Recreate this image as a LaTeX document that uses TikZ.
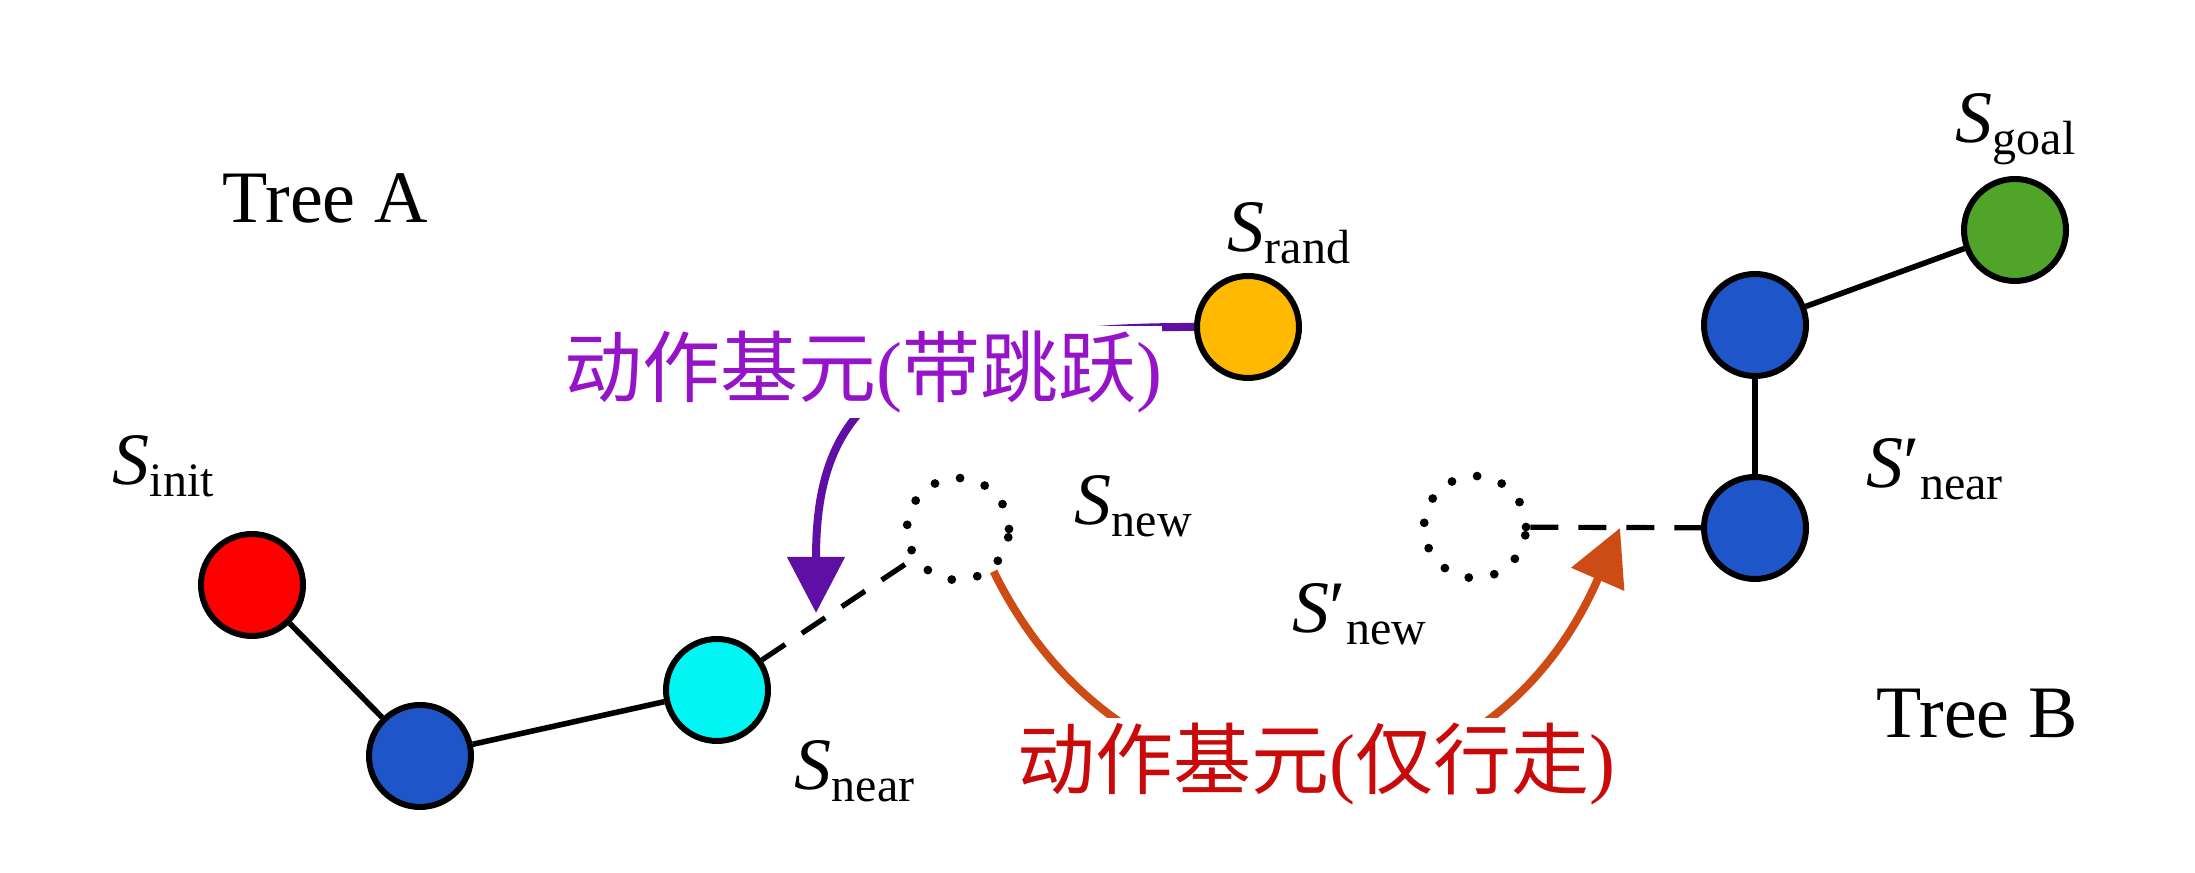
\documentclass[tikz,border=0pt]{standalone}
\usepackage{fontspec}
\setmainfont{Liberation Serif}
\newfontfamily\cjk{Noto Sans CJK SC}
\usetikzlibrary{arrows.meta}
\definecolor{stred}{RGB}{255,0,0}
\definecolor{stblue}{RGB}{30,85,200}
\definecolor{stcyan}{RGB}{0,245,245}
\definecolor{storange}{RGB}{255,185,0}
\definecolor{stgreen}{RGB}{80,165,40}
\definecolor{jumptext}{RGB}{150,20,200}
\definecolor{jumparrow}{RGB}{95,15,165}
\definecolor{walktext}{RGB}{200,10,10}
\definecolor{walkarrow}{RGB}{205,75,20}
\newcommand{\bigS}{{\fontsize{18.5}{20}\selectfont\itshape S}}
\newcommand{\subtx}[1]{{\fontsize{12}{14}\selectfont\raisebox{-3pt}{#1}}}
\newcommand{\primS}{{\fontsize{18.5}{20}\selectfont ′}}
\begin{document}
\begin{tikzpicture}[x=0.25pt,y=-0.25pt,
  st/.style={circle,draw=black,line width=1.5pt,minimum size=25.5pt,inner sep=0pt},
  ghost/.style={circle,draw=black,line width=2.2pt,dash pattern=on 0pt off 6.5pt,line cap=round,minimum size=25.5pt,inner sep=0pt},
  edge/.style={line width=1.4pt,black},
  dedge/.style={line width=1.3pt,black,dash pattern=on 7pt off 5pt},
  lbl/.style={anchor=base west,inner sep=0pt},
  treelbl/.style={anchor=base west,inner sep=0pt,font=\fontsize{18.5}{20}\selectfont},
  jump/.style={line width=2pt,draw=jumparrow,-{Triangle[length=14pt,width=14pt,fill=jumparrow]}},
  walk/.style={line width=2pt,draw=walkarrow,-{Triangle[length=14pt,width=14pt,fill=walkarrow]}},
  cn/.style={fill=white,inner xsep=0pt,inner ysep=1.2pt,font=\cjk\fontsize{19.5}{22}\selectfont}
]
\useasboundingbox (0,0) rectangle (2195,873);
% states
\node[st,fill=stred] (init) at (252,585) {};
\node[st,fill=stblue] (a2) at (420,756) {};
\node[st,fill=stcyan] (near) at (717,690) {};
\node[ghost] (new) at (958,529) {};
\node[st,fill=storange] (rand) at (1248,327) {};
\node[ghost] (newp) at (1475,527) {};
\node[st,fill=stblue] (nearp) at (1755,528) {};
\node[st,fill=stblue] (b2) at (1755,325) {};
\node[st,fill=stgreen] (goal) at (2015,230) {};
% edges
\draw[edge] (init) -- (a2);
\draw[edge] (a2) -- (near);
\draw[dedge] (near) -- (new);
\draw[dedge] (newp) -- (nearp);
\draw[edge] (nearp) -- (b2);
\draw[edge] (b2) -- (goal);
% arrows
\coordinate (jtip) at (816,613);
\coordinate (wtip) at (1620,528);
\draw[jump] (rand.west) .. controls (870,326) and (816,420) .. (jtip);
\draw[walk] (new.-50) .. controls (1130,850) and (1480,850) .. (wtip);
% Chinese labels
\node[cn,text=jumptext] (jtxt) at (863,372) {动作基元{\rmfamily(}带跳跃{\rmfamily)}};
\node[cn,text=walktext] (wtxt) at (1316,764) {动作基元{\rmfamily(}仅行走{\rmfamily)}};
% tree labels
\node[treelbl] (treeA) at (222,223) {Tree A};
\node[treelbl] (treeB) at (1876,738) {Tree B};
% state labels
\node[lbl] (linit) at (112,485) {\bigS\subtx{init}};
\node[lbl] (lrand) at (1227,252) {\bigS\subtx{rand}};
\node[lbl] (lnew) at (1074,525) {\bigS\subtx{new}};
\node[lbl] (lnear) at (794,790) {\bigS\subtx{near}};
\node[lbl] (lnewp) at (1292,633) {\bigS\primS\subtx{new}};
\node[lbl] (lnearp) at (1866,488) {\bigS\primS\subtx{near}};
\node[lbl] (lgoal) at (1955,143) {\bigS\subtx{goal}};
\end{tikzpicture}
\end{document}
